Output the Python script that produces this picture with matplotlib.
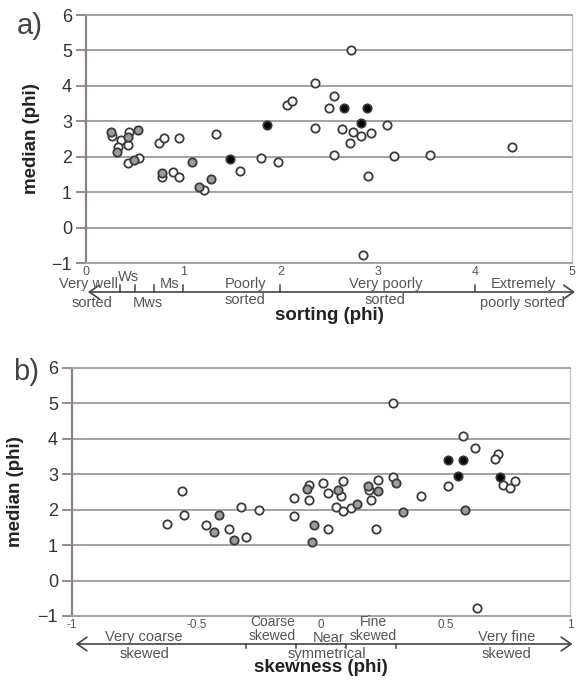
import matplotlib
matplotlib.use("Agg")
import matplotlib.pyplot as plt

plt.rcParams['font.family'] = ['Liberation Sans', 'DejaVu Sans']

# ---------------- data: panel a (sorting vs median) ----------------
sort_white_x = [0.27, 0.36, 0.44, 0.33, 0.43, 0.43, 0.55, 0.75, 0.80, 0.96, 1.34, 1.58, 0.78, 0.90,
                0.96, 1.21, 2.355, 2.07, 2.12, 2.36, 1.80, 1.98, 2.55, 2.50, 2.63, 2.75, 2.83, 2.93,
                2.72, 3.10, 2.55, 3.17, 3.54, 2.90, 2.73, 4.38, 2.85]
sort_white_y = [2.58, 2.47, 2.69, 2.28, 2.32, 1.81, 1.95, 2.39, 2.53, 2.53, 2.64, 1.60, 1.43, 1.56,
                1.44, 1.06, 4.07, 3.46, 3.57, 2.81, 1.95, 1.86, 3.72, 3.38, 2.77, 2.70, 2.59, 2.68,
                2.39, 2.89, 2.05, 2.02, 2.05, 1.45, 5.01, 2.28, -0.78]
sort_gray_x = [0.26, 0.43, 0.535, 0.32, 0.49, 1.09, 0.785, 1.16, 1.29]
sort_gray_y = [2.70, 2.55, 2.76, 2.14, 1.90, 1.86, 1.55, 1.15, 1.36]
sort_black_x = [1.48, 1.86, 2.65, 2.89, 2.83]
sort_black_y = [1.94, 2.89, 3.38, 3.38, 2.94]

sort_ticks = [0, 1, 2, 3, 4, 5]
sort_bounds = [0.35, 0.5, 0.7, 1.0, 2.0, 4.0]
sort_classes_top = [("Very well", 0.03), ("Ws", 0.44), ("Ms", 0.86), ("Poorly", 1.64),
                    ("Very poorly", 3.08), ("Extremely", 4.50)]
sort_classes_bot = [("sorted", 0.06), ("Mws", 0.64), ("sorted", 1.64), ("sorted", 3.08),
                    ("poorly sorted", 4.49)]

# ---------------- data: panel b (skewness vs median) ----------------
skew_white_x = [-0.62, -0.56, -0.55, -0.46, -0.37, -0.30, -0.32, -0.25, -0.11, -0.11, -0.047, -0.047,
                0.007, 0.03, 0.06, 0.03, 0.08, 0.09, 0.09, 0.12, 0.194, 0.228, 0.20, 0.29, 0.29,
                0.40, 0.22, 0.51, 0.57, 0.62, 0.71, 0.70, 0.73, 0.76, 0.78, 0.625]
skew_white_y = [1.61, 2.54, 1.86, 1.56, 1.46, 1.22, 2.08, 1.98, 2.33, 1.83, 2.70, 2.28,
                2.75, 2.47, 2.09, 1.46, 2.40, 2.80, 1.97, 2.04, 2.56, 2.83, 2.27, 5.02, 2.91,
                2.40, 1.46, 2.66, 4.08, 3.73, 3.58, 3.43, 2.69, 2.61, 2.80, -0.77]
skew_gray_x = [-0.43, -0.41, -0.35, -0.057, -0.03, -0.037, 0.07, 0.143, 0.19, 0.23, 0.30, 0.33, 0.58]
skew_gray_y = [1.36, 1.86, 1.15, 2.58, 1.58, 1.08, 2.56, 2.15, 2.68, 2.53, 2.75, 1.93, 1.98]
skew_black_x = [0.51, 0.57, 0.55, 0.72]
skew_black_y = [3.40, 3.40, 2.94, 2.92]

skew_ticks = [-1, -0.5, 0, 0.5, 1]
skew_tick_labels = ["-1", "-0.5", "0", "0.5", "1"]
skew_bounds = [-0.3, -0.1, 0.1, 0.3]
skew_classes_two_row = [("Very coarse", "skewed", -0.71), ("Very fine", "skewed", 0.745)]
skew_classes_stacked = [("Coarse", "skewed", -0.195), ("Fine", "skewed", 0.21)]

median_ticks = [-1, 0, 1, 2, 3, 4, 5, 6]

# ---------------- style ----------------
GRID = '#a8a0a0'
SPINE = '#8c8282'
EDGE = '#3a3a3a'
TXT = '#333333'
CLS = '#555555'

fig = plt.figure(figsize=(5.76, 6.8), dpi=100)
axA = fig.add_axes([86 / 576, 1 - 263 / 680, (572 - 86) / 576, 248 / 680])
axB = fig.add_axes([72 / 576, 1 - 616 / 680, (570 - 72) / 576, 248 / 680])


def style(ax, xlim):
    ax.set_xlim(*xlim)
    ax.set_ylim(-1, 6)
    ax.set_yticks(median_ticks)
    ax.yaxis.grid(True, color=GRID, lw=1.4, zorder=0)
    ax.set_axisbelow(True)
    for s in ['top', 'bottom']:
        ax.spines[s].set_color(GRID)
        ax.spines[s].set_linewidth(1.4)
    ax.spines['left'].set_color(SPINE)
    ax.spines['left'].set_linewidth(1.6)
    ax.spines['right'].set_color('#c9c3c3')
    ax.spines['right'].set_linewidth(1.0)
    ax.tick_params(axis='y', length=7, width=1.3, color=SPINE, pad=3,
                   labelsize=13, labelcolor=TXT)
    ax.tick_params(axis='x', length=0, pad=2, labelsize=9, labelcolor=CLS)


def pts(ax, xs, ys, face):
    ax.scatter(xs, ys, s=36, facecolor=face, edgecolor=EDGE, linewidths=1.3,
               zorder=3, clip_on=False)


# ---- panel a ----
style(axA, (0, 5))
axA.set_xticks(sort_ticks)
axA.set_xticklabels([str(t) for t in sort_ticks])
pts(axA, sort_white_x, sort_white_y, 'white')
pts(axA, sort_gray_x, sort_gray_y, '#9c9c9c')
pts(axA, sort_black_x, sort_black_y, 'black')

trA = axA.get_xaxis_transform()
hA = 248.0
yline = -(292 - 263) / hA
axA.annotate('', xy=(0.02, yline), xytext=(5.03, yline), xycoords=trA, textcoords=trA,
             arrowprops=dict(arrowstyle='<->, head_length=0.5, head_width=0.35',
                             color='#444444', lw=1.2, shrinkA=0, shrinkB=0,
                             mutation_scale=14), annotation_clip=False)
for b in sort_bounds:
    axA.plot([b, b], [yline, yline + 7 / hA], transform=trA, color='#444444', lw=1.1,
             clip_on=False)
for lab, x in sort_classes_top:
    py = 277 if lab == "Ws" else 284
    axA.text(x, -(py - 263) / hA, lab, transform=trA, ha='center', va='center',
             fontsize=10.5, color=CLS)
for lab, x in sort_classes_bot:
    py = 300 if (lab == "sorted" and x > 1) else 303
    axA.text(x, -(py - 263) / hA, lab, transform=trA, ha='center', va='center',
             fontsize=10.5, color=CLS)
axA.text(2.5, -(316 - 263) / hA, 'sorting (phi)', transform=trA, ha='center', va='center',
         fontsize=13.5, fontweight='bold', color='#222222')
axA.set_ylabel('median (phi)', fontsize=13.5, fontweight='bold', color='#222222', labelpad=8)
fig.text(30 / 576, 1 - 26 / 680, 'a)', fontsize=21, color='#444444', ha='center', va='center')

# ---- panel b ----
style(axB, (-1, 1))
axB.set_xticks(skew_ticks)
axB.set_xticklabels(skew_tick_labels)
axB.tick_params(axis='x', labelsize=8.5)
pts(axB, skew_white_x, skew_white_y, 'white')
pts(axB, skew_gray_x, skew_gray_y, '#9c9c9c')
pts(axB, skew_black_x, skew_black_y, 'black')

trB = axB.get_xaxis_transform()
hB = 248.0
ylineB = -(644 - 616) / hB
axB.annotate('', xy=(-0.985, ylineB), xytext=(1.01, ylineB), xycoords=trB, textcoords=trB,
             arrowprops=dict(arrowstyle='<->, head_length=0.5, head_width=0.35',
                             color='#444444', lw=1.2, shrinkA=0, shrinkB=0,
                             mutation_scale=14), annotation_clip=False)
for b in skew_bounds:
    axB.plot([b, b], [ylineB, ylineB - 4 / hB], transform=trB, color='#444444', lw=1.1,
             clip_on=False)
for top, bot, x in skew_classes_two_row:
    axB.text(x, -(637 - 616) / hB, top, transform=trB, ha='center', va='center',
             fontsize=10.5, color=CLS)
    axB.text(x, -(654 - 616) / hB, bot, transform=trB, ha='center', va='center',
             fontsize=10.5, color=CLS)
for top, bot, x in skew_classes_stacked:
    axB.text(x, -(622 - 616) / hB, top, transform=trB, ha='center', va='center',
             fontsize=10, color=CLS)
    axB.text(x, -(635.5 - 616) / hB, bot, transform=trB, ha='center', va='center',
             fontsize=10, color=CLS)
axB.text(0.03, -(638 - 616) / hB, 'Near', transform=trB, ha='center', va='center',
         fontsize=10.5, color=CLS)
axB.text(0.022, -(654 - 616) / hB, 'symmetrical', transform=trB, ha='center', va='center',
         fontsize=10.5, color=CLS)
axB.text(0.0, -(668 - 616) / hB, 'skewness (phi)', transform=trB, ha='center', va='center',
         fontsize=13.5, fontweight='bold', color='#222222')
axB.set_ylabel('median (phi)', fontsize=13.5, fontweight='bold', color='#222222', labelpad=10)
fig.text(26 / 576, 1 - 372 / 680, 'b)', fontsize=21, color='#444444', ha='center', va='center')

fig.savefig('out.png', dpi=100)
